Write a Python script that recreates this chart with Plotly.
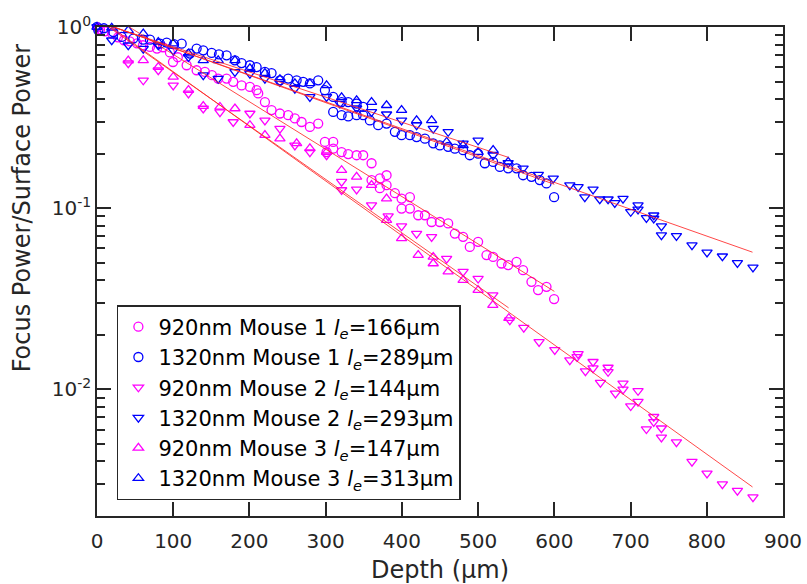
import numpy as np
import plotly.graph_objects as go

# ---- measured power ratio vs depth -------------------------------------
# 920 nm, Mouse 1 (circles)
depth_920_m1 = [4, 10.5, 19.7, 27.5, 35.4, 43, 52.5, 60.3, 69.5, 78.7, 86.5, 95.7, 99.7, 106,
                117.6, 130.7, 141.6, 150.8, 159, 170, 178.7, 189.7, 200.6, 209.4, 211.5, 220.3,
                229, 240, 250.8, 259.6, 268.4, 279.3, 290.2, 299, 309.9, 301.2, 309.9, 320.9,
                329.6, 340.6, 349.2, 360.2, 360.2, 371.1, 379.9, 371.1, 379.9, 390.8, 399.6,
                410.5, 399.6, 410.5, 421.4, 430.2, 439, 449.8, 460.7, 469.5, 480.3, 489.1, 500,
                511, 519.7, 530.7, 539.4, 550.4, 559, 570, 578.7, 589.7, 599.7]
power_920_m1 = [0.970, 0.946, 0.923, 0.877, 0.845, 0.834, 0.813, 0.793, 0.776, 0.760, 0.773, 0.724,
                0.641, 0.681, 0.615, 0.577, 0.565, 0.542, 0.519, 0.519, 0.498, 0.476, 0.467, 0.448,
                0.430, 0.385, 0.348, 0.333, 0.326, 0.313, 0.299, 0.281, 0.293, 0.232, 0.232, 0.204,
                0.213, 0.204, 0.199, 0.196, 0.196, 0.177, 0.143, 0.146, 0.152, 0.129, 0.134, 0.121,
                0.113, 0.115, 0.0995, 0.0995, 0.0914, 0.0914, 0.0839, 0.0839, 0.0824, 0.0724,
                0.0695, 0.0611, 0.0652, 0.0551, 0.0538, 0.0495, 0.0485, 0.0506, 0.0455, 0.0392,
                0.0353, 0.0368, 0.0315]

# 1320 nm, Mouse 1 (circles)
depth_1320_m1 = [0, 1.7, 9, 21.4, 32.4, 47.6, 60.7, 69.5, 82.6, 91.4, 101, 111.1, 122, 130.7,
                 139.4, 150.4, 160, 170, 181, 189.7, 200.6, 209.4, 220.3, 229, 240, 250.8, 261.9,
                 270.5, 279.3, 290.2, 299, 309.9, 320.9, 329.6, 340.6, 349.2, 309.9, 320.9, 329.6,
                 340.6, 349.2, 358, 368.9, 379.9, 390.8, 399.6, 410.5, 419.3, 430.2, 441.1, 449.8,
                 460.7, 469.5, 480.3, 489.1, 500, 508.8, 519.7, 528.5, 539.4, 550.4, 559, 570,
                 580.9, 589.7, 599.7]
power_1320_m1 = [1.0, 0.959, 0.984, 0.938, 0.881, 0.863, 0.851, 0.851, 0.809, 0.820, 0.804, 0.809,
                 0.713, 0.760, 0.743, 0.719, 0.706, 0.698, 0.655, 0.632, 0.615, 0.601, 0.565, 0.557,
                 0.508, 0.519, 0.508, 0.498, 0.488, 0.508, 0.448, 0.411, 0.385, 0.385, 0.378, 0.362,
                 0.340, 0.326, 0.321, 0.326, 0.326, 0.305, 0.287, 0.293, 0.264, 0.253, 0.253, 0.247,
                 0.242, 0.228, 0.222, 0.218, 0.213, 0.209, 0.196, 0.200, 0.177, 0.180, 0.169, 0.166,
                 0.166, 0.152, 0.149, 0.143, 0.137, 0.115]

# 920 nm, Mouse 2 (down triangles)
depth_920_m2 = [1.3, 41, 60.7, 80.4, 100, 120, 139.4, 161.3, 178.7, 200.6, 220.3, 240, 259.6,
                279.3, 301.2, 320.9, 320.9, 340.6, 360.2, 382, 399.6, 419.3, 439, 458.7, 480.3,
                500, 519.3, 541.6, 559.9, 580, 600.6, 620.3, 631.2, 629.8, 640.8, 650.8, 650.8,
                660.5, 670.5, 670.5, 680.2, 690.1, 690.1, 700.2, 709.8, 709.8, 720.8, 730.4,
                730.4, 740.5, 740.5, 760.2, 780.6, 800.3, 820.5, 840.2, 860.6]
power_920_m2 = [0.984, 0.631, 0.508, 0.577, 0.476, 0.430, 0.355, 0.339, 0.299, 0.333, 0.305, 0.275,
                0.222, 0.204, 0.196, 0.140, 0.126, 0.127, 0.104, 0.0904, 0.0796, 0.0724, 0.0695,
                0.0527, 0.0446, 0.0409, 0.0331, 0.0241, 0.0219, 0.0183, 0.0165, 0.0145, 0.0157,
                0.0151, 0.0126, 0.0142, 0.0131, 0.0109, 0.0132, 0.0125, 0.00951, 0.0108, 0.0100,
                0.00809, 0.00982, 0.00855, 0.00604, 0.00706, 0.00662, 0.00610, 0.00543, 0.00511,
                0.00399, 0.00344, 0.00300, 0.00276, 0.00254]

# 1320 nm, Mouse 2 (down triangles)
depth_1320_m2 = [0, 19.3, 41, 60.7, 80.4, 100, 120, 139.4, 159, 181, 200.6, 220.3, 240, 259.6,
                 279.3, 301.2, 318.6, 340.6, 360.2, 379.9, 399.6, 419.3, 441.1, 460.7, 480.3, 500,
                 519.7, 539.4, 559, 579, 598.6, 620.3, 631.2, 640, 650.8, 659.6, 670.5, 679.3,
                 690.1, 700.2, 709.8, 709.8, 720.8, 730.4, 730.4, 740.5, 740.5, 760.2, 780.6,
                 800.3, 820.5, 840.2, 860.6]
power_1320_m2 = [1.0, 0.845, 0.793, 0.760, 0.793, 0.743, 0.684, 0.542, 0.519, 0.565, 0.553, 0.519,
                 0.498, 0.457, 0.411, 0.411, 0.378, 0.356, 0.340, 0.330, 0.305, 0.287, 0.275, 0.264,
                 0.228, 0.237, 0.196, 0.178, 0.166, 0.153, 0.146, 0.134, 0.131, 0.115, 0.127, 0.112,
                 0.112, 0.107, 0.113, 0.0955, 0.104, 0.0984, 0.0883, 0.0914, 0.0877, 0.0796,
                 0.0710, 0.0703, 0.0625, 0.0570, 0.0543, 0.0499, 0.0471]

# 920 nm, Mouse 3 (up triangles)
depth_920_m3 = [1.3, 41, 60.7, 80.4, 100, 120, 139.4, 161.3, 181, 200.6, 220.3, 240, 261.9,
                279.3, 301.2, 320.9, 340.6, 360.2, 379.9, 379.9, 399.6, 421.4, 441.1, 441.1,
                460.7, 480.3, 500, 519.3, 540.3]
power_920_m3 = [0.995, 0.653, 0.655, 0.601, 0.530, 0.448, 0.366, 0.362, 0.355, 0.287, 0.253, 0.242,
                0.228, 0.214, 0.204, 0.162, 0.149, 0.134, 0.113, 0.0859, 0.0681, 0.0551, 0.0538,
                0.0495, 0.0446, 0.0401, 0.0353, 0.0292, 0.0247]

# 1320 nm, Mouse 3 (up triangles)
depth_1320_m3 = [0, 19.3, 41, 60.7, 80.4, 100, 120, 139.4, 159, 181, 200.6, 220.3, 240, 259.6,
                 279.3, 301.2, 320.9, 340.6, 360.2, 379.9, 399.6, 419.3, 439, 458.7, 480.3, 500,
                 519.7, 539.4]
power_1320_m3 = [1.0, 0.99, 0.959, 0.920, 0.826, 0.809, 0.713, 0.655, 0.655, 0.655, 0.592, 0.556,
                 0.515, 0.489, 0.488, 0.476, 0.409, 0.394, 0.385, 0.370, 0.348, 0.305, 0.305, 0.232,
                 0.222, 0.204, 0.209, 0.180]

# ---- exponential fits P = A * exp(-z / le) ------------------------------
fit_le = [166, 289, 144, 293, 147, 313]           # effective attenuation length (um)
fit_amp = [1.29, 1.08, 1.135, 1.076, 1.11, 1.07]  # fitted surface amplitude
fit_max_depth = [600, 600, 860, 860, 540, 540]    # depth span of each fit (um)

wavelengths = ["920nm", "1320nm", "920nm", "1320nm", "920nm", "1320nm"]
mice = ["Mouse 1", "Mouse 1", "Mouse 2", "Mouse 2", "Mouse 3", "Mouse 3"]

depths = [depth_920_m1, depth_1320_m1, depth_920_m2, depth_1320_m2, depth_920_m3, depth_1320_m3]
powers = [power_920_m1, power_1320_m1, power_920_m2, power_1320_m2, power_920_m3, power_1320_m3]

MAGENTA = "#ff00ff"
BLUE = "#0000ff"
colors = [MAGENTA, BLUE, MAGENTA, BLUE, MAGENTA, BLUE]
symbols = ["circle-open", "circle-open", "triangle-down-open", "triangle-down-open",
           "triangle-up-open", "triangle-up-open"]

TEXT = "#262626"
FONT = "DejaVu Sans, Arial, sans-serif"

fig = go.Figure()

for i in range(6):
    name = f"{wavelengths[i]} {mice[i]} <i>l</i><sub><i>e</i></sub>={fit_le[i]}μm"
    fig.add_trace(go.Scatter(
        x=depths[i], y=powers[i], mode="markers", name=name,
        marker=dict(symbol=symbols[i], size=9, color=colors[i],
                    line=dict(color=colors[i], width=1.3)),
        cliponaxis=False,
    ))

for i in range(6):
    z = np.linspace(0, fit_max_depth[i], 60)
    fig.add_trace(go.Scatter(
        x=z, y=fit_amp[i] * np.exp(-z / fit_le[i]), mode="lines",
        line=dict(color="rgba(255,40,40,0.85)", width=1),
        showlegend=False, hoverinfo="skip",
    ))

# minor ticks for the log axis
minor_vals = [m * 10.0 ** e for e in (-3, -2, -1) for m in range(2, 10)]
minor_vals = [v for v in minor_vals if v >= 0.002]

axis_common = dict(
    showline=True, linecolor=TEXT, linewidth=1.8, mirror="ticks",
    ticks="inside", ticklen=14, tickwidth=1.5, tickcolor=TEXT,
    showgrid=False, zeroline=False, automargin=False,
    tickfont=dict(family=FONT, size=20, color=TEXT),
)

fig.update_xaxes(
    range=[0, 900], dtick=100, tick0=0, ticklabelstandoff=6,
    title=dict(text="Depth (μm)", font=dict(family=FONT, size=24, color=TEXT), standoff=12),
    **axis_common,
)
fig.update_yaxes(
    type="log", range=[np.log10(0.002), 0],
    tickvals=[0.01, 0.1, 1],
    ticktext=["10<sup>-2</sup>", "10<sup>-1</sup>", "10<sup>0</sup>"],
    minor=dict(tickvals=minor_vals, ticks="inside", ticklen=8, tickwidth=1.5,
               tickcolor=TEXT, showgrid=False),
    **axis_common,
)

# y-axis label placed as a rotated annotation
fig.add_annotation(
    text="Focus Power/Surface Power", textangle=-90,
    xref="paper", yref="paper", x=-0.108, y=0.631,
    xanchor="center", yanchor="middle", showarrow=False,
    font=dict(family=FONT, size=24, color=TEXT),
)

fig.update_layout(
    width=807, height=584,
    margin=dict(l=97, r=24, t=27, b=68, autoexpand=False),
    paper_bgcolor="white", plot_bgcolor="white",
    font=dict(family=FONT, color=TEXT),
    legend=dict(
        x=0.029, y=0.232, xanchor="left", yanchor="middle",
        bgcolor="white", bordercolor=TEXT, borderwidth=1.5,
        font=dict(family=FONT, size=21, color="#000000"),
        tracegroupgap=0, itemsizing="trace",
    ),
    showlegend=True,
)

fig.write_html("out.html")
